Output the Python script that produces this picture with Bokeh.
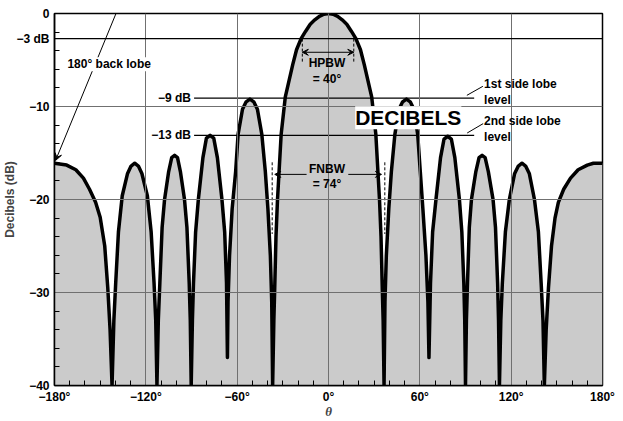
from bokeh.plotting import figure
from bokeh.models import FixedTicker, Label, Span, Arrow, VeeHead
from bokeh.embed import file_html
from bokeh.resources import INLINE

# ---- pattern: angle (deg) and level (dB) ----
theta = [
    -180, -172, -166, -161, -157, -153, -150, -147, -145, -143.5, -142.2,
    -141, -139.8, -138, -135.5, -132, -129.7, -127.3, -124.9, -122.6, -119, -116.5, -114.6, -113.5, -112.7,
    -111.8, -110.8, -109.3, -107.7, -105, -103, -101.1, -99.2, -97.3, -94.6, -93, -91.5, -90.8, -90.2,
    -89.4, -88.7, -87.3, -85.5, -82.5, -80.2, -77.8, -75.4, -73, -70, -68.2, -67, -66.4,
    -66, -65, -63.3, -61, -59.4, -56.5, -54.1, -51.6, -49.1, -46.7, -43.8, -41.5, -39.8, -38.2, -37.3, -36.7,
    -35.9, -35.4, -34.5, -33.5, -31.1, -28.4, -23.5, -21, -18, -15, -12, -9, -6, -3, 0,
    3, 6, 9, 12, 15, 18, 21, 23.5, 28.4, 31.1, 33.5, 34.5, 35.4, 35.9, 36.5,
    37.1, 38, 39.6, 41.3, 43.6, 46.3, 48.7, 51.2, 53.7, 56.1, 58.6, 60.3, 62, 64, 65.3, 66,
    67, 68.4, 70.6, 73.6, 75.9, 78.3, 80.7, 83, 86, 87.6, 88.9, 89.5, 90,
    90.6, 91.3, 92.5, 93.9, 96.8, 98.9, 100.9, 102.9, 105, 108.1, 109.7, 111.1, 111.7, 112.3,
    113.2, 114.2, 116.2, 118.8, 122.3, 124.7, 127.1, 129.5, 131.9, 135.3, 137.9, 139.7, 140.9, 141.8,
    143, 144.5, 146.5, 148.8, 151, 154.5, 159, 164, 170, 174, 180,
]
db = [
    -16.1, -16.3, -16.8, -17.7, -18.9, -20.3, -21.9, -25, -29.5, -34, -40,
    -33, -29, -23.5, -19.6, -17.2, -16.4, -16.1, -16.4, -17.2, -19.6, -23.5, -29, -33, -40,
    -33, -29, -23, -20, -17, -15.5, -15.25, -15.5, -17, -20, -23, -29, -33, -40,
    -33, -29, -23.5, -20, -15.5, -13.4, -13.1, -13.4, -15.5, -20, -23.5, -29, -37,
    -31, -26, -21, -17, -13, -10.3, -9.5, -9.2, -9.5, -10.3, -13, -17, -21, -26, -31, -40,
    -33, -30, -24, -20, -13, -9, -5.5, -3.9, -2.7, -1.9, -1.15, -0.68, -0.3, -0.08, 0,
    -0.08, -0.3, -0.68, -1.15, -1.9, -2.7, -3.9, -5.5, -9, -13, -20, -24, -30, -33, -40,
    -31, -26, -21, -17, -13, -10.3, -9.5, -9.2, -9.5, -10.3, -13, -17, -21, -26, -31, -37,
    -29, -23.5, -20, -15.5, -13.5, -13.2, -13.5, -15.5, -20, -23.5, -29, -33, -40,
    -33, -29, -23, -20, -17, -15.5, -15.25, -15.5, -17, -20, -23, -29, -33, -40,
    -33, -29, -23.5, -20, -17.2, -16.4, -16.1, -16.4, -17.2, -20, -23.5, -29, -33, -40,
    -34, -29.5, -25, -22, -20.3, -18.9, -17.7, -16.8, -16.3, -16.1, -16.1,
]

half_power_level = -2.7
first_sidelobe_level = -9.1
second_sidelobe_level = -13.1
hpbw_edges = [-17.2, 16.6]
fnbw_edges = [-37, 37]

x_ticks = [-180, -120, -60, 0, 60, 120, 180]
x_labels = ["\u2212180\u00b0", "\u2212120\u00b0", "\u221260\u00b0", "0\u00b0", "60\u00b0", "120\u00b0", "180\u00b0"]
y_ticks = [0, half_power_level, -10, -20, -30, -40]
y_labels = ["0", "\u22123 dB", "\u221210", "\u221220", "\u221230", "\u221240"]

FONT = "Liberation Sans"

p = figure(width=623, height=421, x_range=(-180, 180), y_range=(-40, 0),
           output_backend="svg", toolbar_location=None,
           min_border_left=52, min_border_right=21, min_border_top=13, min_border_bottom=36)
p.background_fill_color = "white"
p.border_fill_color = "white"
p.outline_line_color = "black"
p.outline_line_width = 1.5
p.outline_line_alpha = 1.0

# fill under the pattern
p.varea(x=theta, y1=-40, y2=db, fill_color="#cbcbcb", level="underlay")

xt = FixedTicker(ticks=x_ticks, minor_ticks=[v for v in range(-170, 180, 10) if v % 60 != 0])
yt = FixedTicker(ticks=y_ticks, minor_ticks=[v for v in range(-38, 0, 2) if v % 10 != 0])

p.xgrid.ticker = FixedTicker(ticks=x_ticks[1:-1])
p.ygrid.ticker = FixedTicker(ticks=[-10, -20, -30])
for g in (p.xgrid, p.ygrid):
    g.grid_line_color = "#707070"
    g.grid_line_width = 1
    g.level = "glyph"

# pattern curve
p.line(theta, db, line_color="black", line_width=3.5, line_join="round")

# axes
for ax, tk, labs in ((p.xaxis, xt, x_labels), (p.yaxis, yt, y_labels)):
    ax.ticker = tk
    ax.major_label_overrides = {t: l for t, l in zip(tk.ticks, labs)}
    ax.axis_line_color = "black"
    ax.axis_line_width = 1.5
    ax.major_tick_in = 0
    ax.major_tick_out = 0
    ax.minor_tick_in = 5
    ax.minor_tick_out = 0
    ax.minor_tick_line_color = "black"
    ax.minor_tick_line_width = 1
    ax.major_label_text_font = FONT
    ax.major_label_text_font_style = "bold"
    ax.major_label_text_font_size = "12px"
    ax.major_label_text_color = "black"

p.xaxis.major_label_standoff = 4
p.yaxis.major_label_standoff = 5

p.xaxis.axis_label = "\u03b8"
p.xaxis.axis_label_text_font = "Liberation Serif"
p.xaxis.axis_label_text_font_style = "bold italic"
p.xaxis.axis_label_text_font_size = "13px"
p.xaxis.axis_label_standoff = -3
p.yaxis.axis_label = "Decibels (dB)"
p.yaxis.axis_label_text_font = FONT
p.yaxis.axis_label_text_font_style = "bold"
p.yaxis.axis_label_text_font_size = "12px"
p.yaxis.axis_label_standoff = -4

def txt(x, y, t, align="center", size="12px", **kw):
    lab = Label(x=x, y=y, text=t, text_align=align, text_baseline="middle",
                text_font=FONT, text_font_style="bold", text_font_size=size,
                text_color="black", **kw)
    p.add_layout(lab)
    return lab

# -3 dB reference
p.add_layout(Span(location=half_power_level, dimension="width", line_color="black", line_width=1.2))

# side lobe level lines
p.segment(x0=[-88.3, -88.3], y0=[first_sidelobe_level, second_sidelobe_level],
          x1=[95.7, 95.7], y1=[first_sidelobe_level, second_sidelobe_level],
          line_color="black", line_width=1.2)
txt(-90.4, first_sidelobe_level, "\u22129 dB", align="right")
txt(-90.4, second_sidelobe_level, "\u221213 dB", align="right")

# leaders to side lobe notes
p.segment(x0=[90.9, 91.1], y0=[-8.8, -12.85], x1=[101.4, 101.6], y1=[-7.83, -11.84],
          line_color="black", line_width=1)
txt(102.2, -7.6, "1st side lobe", align="left")
txt(102.2, -9.25, "level", align="left")
txt(102.2, -11.6, "2nd side lobe", align="left")
txt(102.2, -13.25, "level", align="left")

# HPBW
p.segment(x0=hpbw_edges, y0=[-2.7, -2.7], x1=hpbw_edges, y1=[-5.2, -5.2],
          line_color="black", line_width=1, line_dash="3 2")
p.add_layout(Arrow(x_start=hpbw_edges[0], y_start=-4.17, x_end=hpbw_edges[1], y_end=-4.17,
                   line_width=1, start=VeeHead(size=6, fill_color="black", line_width=1),
                   end=VeeHead(size=6, fill_color="black", line_width=1)))
txt(-1, -5.35, "HPBW")
txt(-1, -7.0, "= 40\u00b0")

# FNBW
p.segment(x0=fnbw_edges, y0=[-16, -16], x1=fnbw_edges, y1=[-23.7, -23.7],
          line_color="black", line_width=1, line_dash="3 2")
p.add_layout(Arrow(x_start=-14.4, y_start=-17.3, x_end=-35.3, y_end=-17.3, line_width=1,
                   start=None, end=VeeHead(size=6, fill_color="black", line_width=1)))
p.add_layout(Arrow(x_start=13.0, y_start=-17.3, x_end=34.8, y_end=-17.3, line_width=1,
                   start=None, end=VeeHead(size=6, fill_color="black", line_width=1)))
txt(-1, -16.75, "FNBW")
txt(-1, -18.35, "= 74\u00b0")

# back lobe note
p.add_layout(Arrow(x_start=-139.6, y_start=0, x_end=-179.3, y_end=-15.8, line_width=1,
                   end=VeeHead(size=7, fill_color="black", line_width=1)))
txt(-144.1, -5.46, "180\u00b0 back lobe", background_fill_color="white")

# big label
txt(52.4, -11.2, "DECIBELS", size="21px", background_fill_color="white")

open("out.html", "w").write(file_html(p, INLINE))
